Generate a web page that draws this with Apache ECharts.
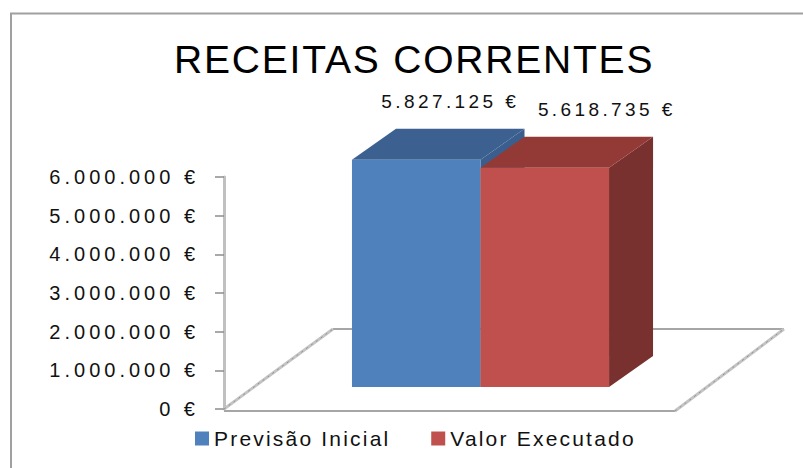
<!DOCTYPE html>
<html>
<head>
<meta charset="utf-8">
<script src="https://cdn.jsdelivr.net/npm/echarts@6/dist/echarts.min.js"></script>
<style>
    html, body { margin: 0; padding: 0; background: #fff; }
    #chart { width: 803px; height: 468px; }
    /* Excel draws these labels wider than the font does, so space the letters out */
    #chart text[style*="39px"] { letter-spacing: 1.8px; }
    #chart text[style*="20px"] { letter-spacing: 4px; }
    #chart text[style*="19px"] { letter-spacing: 3.4px; }
    #chart text[style*="21px"] { letter-spacing: 2.2px; }
</style>
</head>
<body>
<div id="chart"></div>
<script>
    // data
    const categories = ['Receitas Correntes'];
    const previsaoInicial = [5827125];
    const valorExecutado = [5618735];
    const seriesNames = ['Previsão Inicial', 'Valor Executado'];
    const yMax = 6000000;
    const yStep = 1000000;

    // 3D look
    const FRONT_DX = 31, FRONT_DY = -22;   // bars stand a bit into the floor
    const DEPTH_DX = 44, DEPTH_DY = -31;   // bar depth
    const FLOOR_DX = 109, FLOOR_DY = -80;  // floor depth
    const BAR_RATIO = 0.285;

    function euro(v) {
        return String(v).replace(/\B(?=(\d{3})+(?!\d))/g, '.') + ' €';
    }

    function bar3d(idx, colors, labelDx) {
        return function (params, api) {
            const base = api.coord([api.value(0), 0]);
            const top = api.coord([api.value(0), api.value(1)]);
            const w = api.size([1, 0])[0] * BAR_RATIO;
            const x0 = base[0] + FRONT_DX + (idx - 1) * w;
            const yb = base[1] + FRONT_DY;
            const yt = top[1] + FRONT_DY - 2;
            return {
                type: 'group',
                children: [
                    {
                        type: 'polygon',
                        shape: {points: [[x0 + w, yt], [x0 + w + DEPTH_DX, yt + DEPTH_DY], [x0 + w + DEPTH_DX, yb + DEPTH_DY], [x0 + w, yb]]},
                        style: {fill: colors[2]}
                    },
                    {
                        type: 'polygon',
                        shape: {points: [[x0, yt], [x0 + DEPTH_DX, yt + DEPTH_DY], [x0 + w + DEPTH_DX, yt + DEPTH_DY], [x0 + w, yt]]},
                        style: {fill: colors[1]}
                    },
                    {
                        type: 'rect',
                        shape: {x: x0, y: yt, width: w, height: yb - yt},
                        style: {fill: colors[0]}
                    },
                    {
                        type: 'text',
                        x: x0 + w / 2 + DEPTH_DX / 2 + labelDx,
                        y: yt + DEPTH_DY - 27,
                        style: {
                            text: euro(api.value(1)),
                            fontFamily: 'Liberation Sans',
                            fontSize: 19,
                            fill: '#111',
                            align: 'center',
                            verticalAlign: 'middle'
                        }
                    }
                ]
            };
        };
    }

    function floor(params, api) {
        const cs = params.coordSys;
        const x1 = cs.x, x2 = cs.x + cs.width, y = cs.y + cs.height;
        const edge = {stroke: '#a6a6a6', lineWidth: 2};
        const side = {stroke: '#c4c4c4', lineWidth: 3};
        const dots = {stroke: '#909090', lineWidth: 1, lineDash: [2, 4]};
        const line = (a, b, st) => ({type: 'line', shape: {x1: a[0], y1: a[1], x2: b[0], y2: b[1]}, style: st});
        return {
            type: 'group',
            children: [
                line([x1 + FLOOR_DX, y + FLOOR_DY], [x2 + FLOOR_DX, y + FLOOR_DY], edge),
                line([x1, y + 2], [x2, y + 2], edge),
                line([x1, y], [x1 + FLOOR_DX, y + FLOOR_DY], side),
                line([x2, y + 2], [x2 + FLOOR_DX, y + FLOOR_DY], side),
                line([x1, y], [x1 + FLOOR_DX, y + FLOOR_DY], dots),
                line([x2, y + 2], [x2 + FLOOR_DX, y + FLOOR_DY], dots)
            ]
        };
    }

    const chart = echarts.init(document.getElementById('chart'), null, {renderer: 'svg'});

    const option = {
        backgroundColor: '#fff',
        animation: false,
        title: {
            text: 'RECEITAS CORRENTES',
            left: 174,
            top: 40,
            padding: 0,
            textStyle: {fontFamily: 'Liberation Sans', fontSize: 39, fontWeight: 'normal', color: '#000'}
        },
        legend: {
            data: seriesNames,
            left: 195,
            top: 428,
            padding: 0,
            itemWidth: 14,
            itemHeight: 14,
            itemGap: 76,
            icon: 'rect',
            textStyle: {fontFamily: 'Liberation Sans', fontSize: 21, color: '#111'}
        },
        graphic: [{
            type: 'rect',
            shape: {x: 11, y: 13.5, width: 900, height: 600},
            style: {fill: 'none', stroke: '#a0a0a0', lineWidth: 2},
            silent: true
        }],
        grid: {left: 224, right: 128, top: 177, bottom: 59},
        xAxis: {
            type: 'category',
            data: categories,
            show: false
        },
        yAxis: {
            type: 'value',
            min: 0,
            max: yMax,
            interval: yStep,
            axisLine: {show: true, lineStyle: {color: '#c0c0c0', width: 3}},
            axisTick: {show: true, length: 9, lineStyle: {color: '#8c8c8c', width: 1.5}},
            splitLine: {show: false},
            axisLabel: {
                margin: 25,
                fontFamily: 'Liberation Sans',
                fontSize: 20,
                color: '#111',
                formatter: euro
            }
        },
        series: [
            {
                type: 'custom',
                name: 'floor',
                silent: true,
                z: 1,
                renderItem: floor,
                data: [[0, 0]]
            },
            {
                type: 'custom',
                name: seriesNames[0],
                z: 2,
                itemStyle: {color: '#4f81bd'},
                renderItem: bar3d(0, ['#4f81bd', '#3c6190', '#3a5f8e'], 12),
                data: categories.map((c, i) => [i, previsaoInicial[i]])
            },
            {
                type: 'custom',
                name: seriesNames[1],
                z: 3,
                itemStyle: {color: '#c0504d'},
                renderItem: bar3d(1, ['#c0504d', '#933a37', '#793130'], 40),
                data: categories.map((c, i) => [i, valorExecutado[i]])
            }
        ]
    };

    chart.setOption(option);
</script>
</body>
</html>
